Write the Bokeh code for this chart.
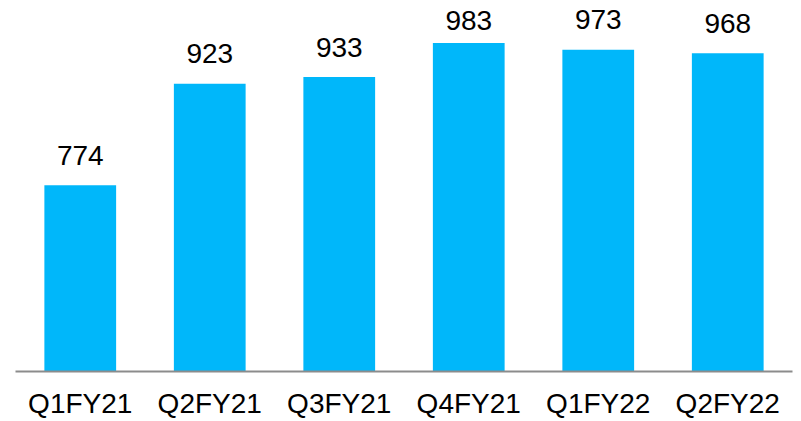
from bokeh.plotting import figure
from bokeh.models import ColumnDataSource, Range1d
from bokeh.embed import file_html
from bokeh.resources import INLINE
from bokeh.core.properties import value

quarters = ["Q1FY21", "Q2FY21", "Q3FY21", "Q4FY21", "Q1FY22", "Q2FY22"]
values = [774, 923, 933, 983, 973, 968]
labels = [str(v) for v in values]

# label offset: the tallest bar's label sits a bit closer to its bar
offsets = [-23 if v == max(values) else -30 for v in values]

src = ColumnDataSource(dict(q=quarters, v=values, lab=labels, off=offsets))

p = figure(x_range=quarters, y_range=Range1d(500, 1045.5),
           width=801, height=421,
           min_border_left=15, min_border_right=9, min_border_top=0, min_border_bottom=0,
           output_backend="svg", toolbar_location=None, y_axis_location=None)

p.vbar(x="q", top="v", bottom=500, width=0.554, source=src,
       fill_color="#00B7FA", line_color=None)

p.text(x="q", y="v", text="lab", source=src, y_offset="off",
       text_align="center", text_baseline="alphabetic",
       text_font=value("Liberation Sans"), text_font_size="28px", text_color="#000000")

p.xgrid.visible = False
p.ygrid.visible = False
p.outline_line_color = None
p.background_fill_color = "white"
p.border_fill_color = "white"

ax = p.xaxis[0]
ax.axis_line_color = "#8c8c8c"
ax.axis_line_width = 2
ax.major_tick_line_color = None
ax.minor_tick_line_color = None
ax.major_tick_out = 0
ax.major_tick_in = 0
ax.major_label_standoff = 16
ax.major_label_text_font = "Liberation Sans"
ax.major_label_text_font_size = "28px"
ax.major_label_text_color = "#000000"

open("out.html", "w").write(file_html(p, INLINE))
